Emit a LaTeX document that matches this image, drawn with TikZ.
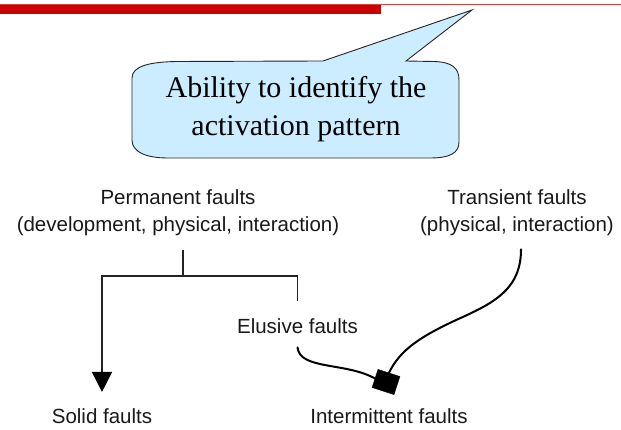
\documentclass[tikz,border=0pt]{standalone}
\usepackage{fontspec}
\setmainfont{Liberation Serif}
\newfontfamily\labelfont{Liberation Sans}
\usetikzlibrary{arrows.meta,calc}
\definecolor{barred}{RGB}{204,0,0}
\definecolor{calloutblue}{RGB}{204,236,255}
\definecolor{treegray}{RGB}{34,34,34}
\begin{document}
\begin{tikzpicture}[x=1pt,y=-1pt,
  fault/.style={font=\labelfont\fontsize{20.5}{27}\selectfont, text=black!90, inner sep=0pt, align=center},
  branch/.style={draw=treegray, line width=1.5pt},
  wavy/.style={draw=black, line width=2pt, line cap=round},
  marker/.style={draw=black, fill=black, minimum width=23pt, minimum height=19pt, inner sep=0pt, rotate=-18},
]
\useasboundingbox (0,0) rectangle (621,430);

% header rule
\draw[barred!75, line width=1pt] (0,4.5) -- (621,4.5);
\fill[barred] (0,5) rectangle (381,14);

% speech balloon
\filldraw[fill=calloutblue, draw=black!85, line width=0.9pt]
  (132,140) -- (132,78) .. controls (132,66) and (150,62) .. (176,61.5)
  -- (323,61) -- (472,10) -- (406,61) -- (434,61.5)
  .. controls (452,62) and (459,68) .. (459,80) -- (459,142)
  .. controls (459,153) and (450,158) .. (430,158) -- (168,158)
  .. controls (146,158) and (132,152) .. (132,140) -- cycle;
\node[font=\fontsize{30}{38}\selectfont, align=center, inner sep=0pt] (callout) at (296,109)
  {Ability to identify the\\activation pattern};

% fault classes
\node[fault] (perm) at (178,213) {Permanent faults\\(development, physical, interaction)};
\node[fault] (trans) at (517,213) {Transient faults\\(physical, interaction)};
\node[fault, anchor=base] (elusive) at (297.5,333) {Elusive faults};
\node[fault, anchor=base] (solid) at (102,423) {Solid faults};
\node[fault, anchor=base] (inter) at (389,423) {Intermittent faults};

% junction marker
\node[marker] (sq) at (386,382) {};

% tree under permanent faults
\coordinate (split) at (183,276);
\draw[branch] ($(perm.south -| split)+(0,14)$) -- (split);
\draw[branch, -{Triangle[width=20pt,length=20pt,fill=black,color=black]}] (split) -| ([yshift=16pt]solid.north);
\draw[branch] (split) -| ([yshift=17pt]elusive.north);

% curved links into intermittent faults
\draw[wavy] ([yshift=-14pt]elusive.south) .. controls (300,370) and (345,362) .. (sq.west);
\draw[wavy] ([xshift=4pt,yshift=-13pt]trans.south) .. controls (521,285) and (500,300) .. (465,316)
  .. controls (420,336) and (400,350) .. (sq.north);
\end{tikzpicture}
\end{document}
